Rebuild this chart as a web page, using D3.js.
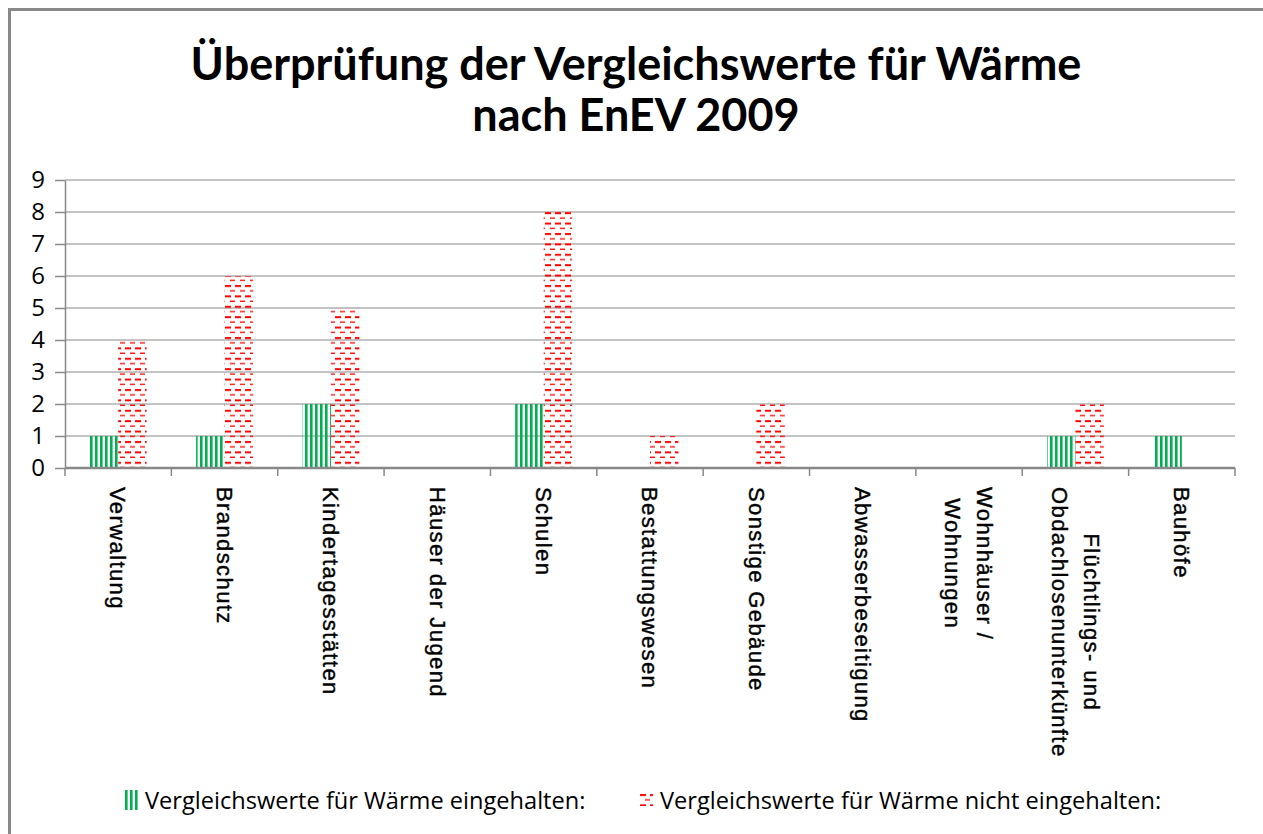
<!DOCTYPE html>
<html>
<head>
<meta charset="utf-8">
<script src="https://cdn.jsdelivr.net/npm/d3@7"></script>
<style>
  body { margin: 0; background: #fff; }
  svg { display: block; }
</style>
</head>
<body>
<div id="chart"></div>
<script>
// chart data
var categories = ["Verwaltung", "Brandschutz", "Kindertagesstätten", "Häuser der Jugend",
  "Schulen", "Bestattungswesen", "Sonstige Gebäude", "Abwasserbeseitigung",
  "Wohnhäuser /|Wohnungen", "Flüchtlings- und|Obdachlosenunterkünfte", "Bauhöfe"];
var seriesNames = ["Vergleichswerte für Wärme eingehalten:", "Vergleichswerte für Wärme nicht eingehalten:"];
var eingehalten = [1, 1, 2, 0, 2, 0, 0, 0, 0, 1, 1];
var nichtEingehalten = [4, 6, 5, 0, 8, 1, 2, 0, 0, 2, 0];
var yTicks = [0, 1, 2, 3, 4, 5, 6, 7, 8, 9];
var titleLines = ["Überprüfung der Vergleichswerte für Wärme", "nach EnEV 2009"];

var W = 1263, H = 834;
var margin = {top: 180, right: 28, bottom: 366, left: 65},
    width = W - margin.left - margin.right,
    height = H - margin.top - margin.bottom;

var svg = d3.select("#chart").append("svg")
    .attr("width", W)
    .attr("height", H);

// fill patterns
var defs = svg.append("defs");
var gp = defs.append("pattern")
    .attr("id", "greenStripes")
    .attr("patternUnits", "userSpaceOnUse")
    .attr("width", 5).attr("height", 5);
gp.append("rect").attr("x", 0).attr("y", 0).attr("width", 2.6).attr("height", 5).attr("fill", "#00b050");

var rp = defs.append("pattern")
    .attr("id", "redDashes")
    .attr("patternUnits", "userSpaceOnUse")
    .attr("width", 10).attr("height", 10.4);
rp.append("rect").attr("x", 0).attr("y", 1).attr("width", 6).attr("height", 2).attr("fill", "#ff0000");
rp.append("rect").attr("x", 5).attr("y", 6.2).attr("width", 5).attr("height", 1.3).attr("fill", "#ff0000");

// outer frame
svg.append("rect")
    .attr("x", 9.5).attr("y", 9.5)
    .attr("width", W + 20).attr("height", H + 20)
    .attr("fill", "none")
    .attr("stroke", "#888")
    .attr("stroke-width", 3);

// title
svg.append("g").selectAll("text")
  .data(titleLines)
  .enter().append("text")
    .attr("x", 636)
    .attr("y", function(d, i) { return 80 + i * 51; })
    .attr("text-anchor", "middle")
    .attr("font-family", "Lato, 'Open Sans', sans-serif")
    .attr("font-weight", "bold")
    .attr("font-size", "45px")
    .attr("fill", "#000")
    .text(function(d) { return d; });

var chartGroup = svg.append("g")
    .attr("transform", "translate(" + margin.left + "," + margin.top + ")");

var x = d3.scaleBand()
    .domain(d3.range(categories.length))
    .range([0, width])
    .padding(0);

var xInner = d3.scaleBand()
    .domain([0, 1])
    .range([0, x.bandwidth()])
    .paddingInner(0)
    .paddingOuter(0.87);

var y = d3.scaleLinear()
    .domain([0, 9])
    .range([height, 0]);

// gridlines
chartGroup.append("g")
  .selectAll("line")
  .data(yTicks.slice(1))
  .enter().append("line")
    .attr("x1", 0).attr("x2", width)
    .attr("y1", function(d) { return y(d); })
    .attr("y2", function(d) { return y(d); })
    .attr("stroke", "#888")
    .attr("stroke-width", 1);

// bars
var series = [eingehalten, nichtEingehalten];
var fills = ["url(#greenStripes)", "url(#redDashes)"];
series.forEach(function(vals, s) {
  chartGroup.append("g")
    .selectAll("rect")
    .data(vals)
    .enter().append("rect")
      .attr("x", function(d, i) { return x(i) + xInner(s); })
      .attr("y", function(d) { return y(d); })
      .attr("width", xInner.bandwidth())
      .attr("height", function(d) { return height - y(d); })
      .attr("fill", fills[s]);
});

// y axis
var yAxis = chartGroup.append("g")
    .call(d3.axisLeft(y).tickValues(yTicks).tickSize(10).tickPadding(10).tickSizeOuter(0));
yAxis.select(".domain").attr("stroke", "#888").attr("stroke-width", 1.5);
yAxis.selectAll(".tick line").attr("stroke", "#888").attr("stroke-width", 1.5);
yAxis.selectAll(".tick text")
    .attr("font-family", "'Open Sans', sans-serif")
    .attr("font-size", "24px")
    .attr("fill", "#000");

// x axis (category boundary ticks)
var xAxisG = chartGroup.append("g")
    .attr("transform", "translate(0," + height + ")");
xAxisG.append("line")
    .attr("x1", 0).attr("x2", width)
    .attr("stroke", "#888").attr("stroke-width", 2.5);
xAxisG.selectAll(".bt")
  .data(d3.range(categories.length + 1))
  .enter().append("line")
    .attr("class", "bt")
    .attr("x1", function(d) { return d * x.step(); })
    .attr("x2", function(d) { return d * x.step(); })
    .attr("y1", 0).attr("y2", 8)
    .attr("stroke", "#888").attr("stroke-width", 1.5);

// rotated category labels
var lineGap = 32;
categories.forEach(function(c, i) {
  var lines = c.split("|");
  var n = lines.length;
  var g = chartGroup.append("g")
      .attr("transform", "translate(" + (x(i) + x.bandwidth() / 2) + "," + (height + 19) + ") rotate(90)");
  var texts = g.selectAll("text")
    .data(lines)
    .enter().append("text")
      .attr("x", 0)
      .attr("y", function(d, j) { return (j - (n - 1) / 2) * lineGap; })
      .attr("dy", "0.35em")
      .attr("font-family", "'Liberation Sans', Arial, sans-serif")
      .attr("font-size", "22px")
      .attr("letter-spacing", "1.4px")
      .attr("stroke", "#000")
      .attr("stroke-width", 0.4)
      .attr("fill", "#000")
      .text(function(d) { return d; });
  var maxLen = d3.max(texts.nodes(), function(t) { return t.getComputedTextLength(); });
  texts.attr("x", function() { return (maxLen - this.getComputedTextLength()) / 2; });
});

// legend
var legend = svg.append("g");
var lg1 = legend.append("g").attr("transform", "translate(125,790)");
lg1.selectAll("rect")
  .data([0, 1, 2])
  .enter().append("rect")
    .attr("x", function(d) { return d * 5; })
    .attr("y", 0)
    .attr("width", 2.6).attr("height", 20)
    .attr("fill", "#00b050");
lg1.append("text")
    .attr("x", 20).attr("y", 19)
    .attr("font-family", "'Open Sans', sans-serif")
    .attr("font-size", "23.6px")
    .attr("fill", "#000")
    .text(seriesNames[0]);

var lg2 = legend.append("g").attr("transform", "translate(640,793)");
lg2.append("rect").attr("x", 0).attr("y", 0).attr("width", 13).attr("height", 13).attr("fill", "url(#redDashes)");
lg2.append("text")
    .attr("x", 20).attr("y", 16)
    .attr("font-family", "'Open Sans', sans-serif")
    .attr("font-size", "23.6px")
    .attr("fill", "#000")
    .text(seriesNames[1]);
</script>
</body>
</html>
